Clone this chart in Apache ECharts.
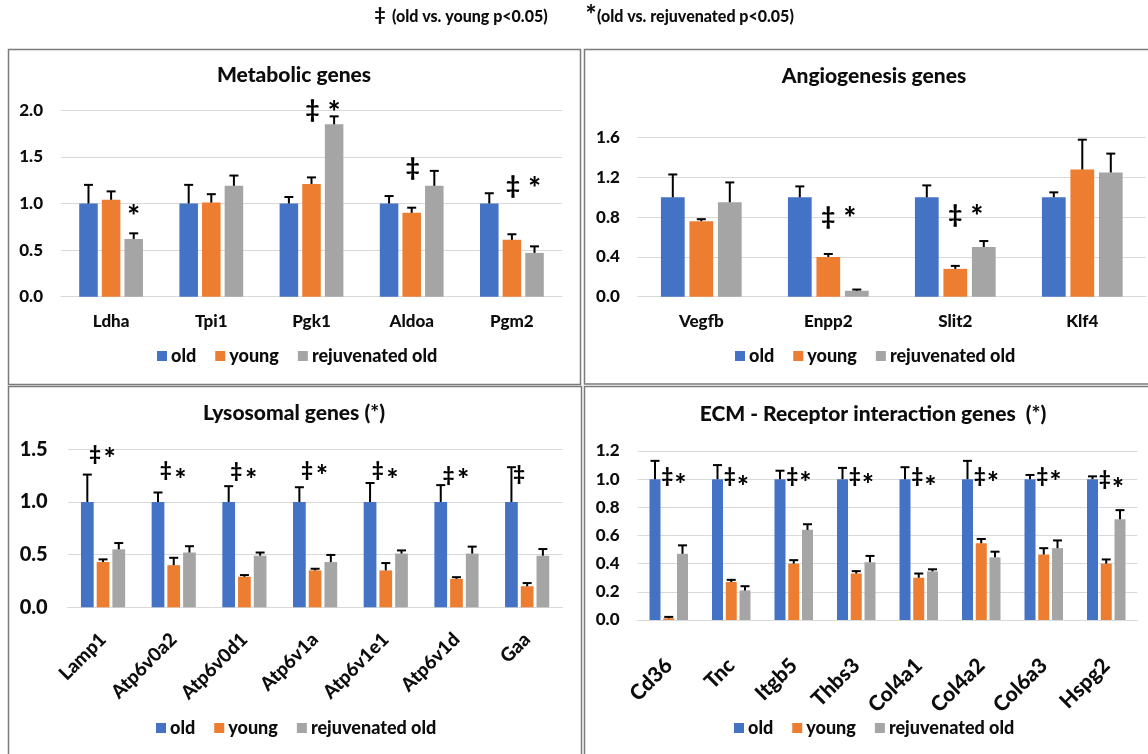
<!DOCTYPE html>
<html>
<head>
<meta charset="utf-8">
<script src="https://cdn.jsdelivr.net/npm/echarts@6/dist/echarts.min.js"></script>
<style>
  html, body { margin: 0; padding: 0; background: #fff; }
  #chart { width: 1148px; height: 754px; }
</style>
</head>
<body>
<div id="chart"></div>
<script>
// ---------------- DATA ----------------
const seriesNames = ['old', 'young', 'rejuvenated old'];

// Metabolic genes
const metabolicCategories = ['Ldha', 'Tpi1', 'Pgk1', 'Aldoa', 'Pgm2'];
const metabolicOld = [1, 1, 1, 1, 1];
const metabolicOldErr = [0.20, 0.20, 0.07, 0.08, 0.11];
const metabolicYoung = [1.04, 1.01, 1.21, 0.90, 0.61];
const metabolicYoungErr = [0.09, 0.09, 0.07, 0.055, 0.06];
const metabolicRejuv = [0.62, 1.19, 1.85, 1.19, 0.47];
const metabolicRejuvErr = [0.06, 0.11, 0.085, 0.16, 0.07];
const metabolicTicks = [0, 0.5, 1.0, 1.5, 2.0];
// significance marks: [category, bar (1 = young, 2 = rejuvenated), value, symbol]
const metabolicMarks = [
  ['Ldha', 2, 0.93, '*'],
  ['Pgk1', 1, 2.00, '‡'], ['Pgk1', 2, 2.04, '*'],
  ['Aldoa', 1, 1.38, '‡'],
  ['Pgm2', 1, 1.18, '‡'], ['Pgm2', 2, 1.23, '*']
];

// Angiogenesis genes
const angioCategories = ['Vegfb', 'Enpp2', 'Slit2', 'Klf4'];
const angioOld = [1, 1, 1, 1];
const angioOldErr = [0.23, 0.11, 0.12, 0.05];
const angioYoung = [0.76, 0.40, 0.28, 1.28];
const angioYoungErr = [0.02, 0.03, 0.03, 0.30];
const angioRejuv = [0.95, 0.06, 0.50, 1.25];
const angioRejuvErr = [0.20, 0.012, 0.06, 0.19];
const angioTicks = [0, 0.4, 0.8, 1.2, 1.6];
const angioMarks = [
  ['Enpp2', 1, 0.80, '‡'], ['Enpp2', 2, 0.855, '*'],
  ['Slit2', 1, 0.82, '‡'], ['Slit2', 2, 0.87, '*']
];

// Lysosomal genes
const lysoCategories = ['Lamp1', 'Atp6v0a2', 'Atp6v0d1', 'Atp6v1a', 'Atp6v1e1', 'Atp6v1d', 'Gaa'];
const lysoOld = [1, 1, 1, 1, 1, 1, 1];
const lysoOldErr = [0.26, 0.09, 0.15, 0.14, 0.18, 0.16, 0.33];
const lysoYoung = [0.43, 0.40, 0.29, 0.35, 0.35, 0.27, 0.20];
const lysoYoungErr = [0.025, 0.07, 0.016, 0.016, 0.07, 0.016, 0.03];
const lysoRejuv = [0.55, 0.52, 0.49, 0.43, 0.51, 0.51, 0.49];
const lysoRejuvErr = [0.06, 0.06, 0.03, 0.067, 0.03, 0.066, 0.063];
const lysoTicks = [0, 0.5, 1.0, 1.5];
const lysoMarks = [
  ['Lamp1', 1, 1.45, '‡'], ['Lamp1', 2, 1.47, '*'],
  ['Atp6v0a2', 1, 1.30, '‡'], ['Atp6v0a2', 2, 1.27, '*'],
  ['Atp6v0d1', 1, 1.29, '‡'], ['Atp6v0d1', 2, 1.27, '*'],
  ['Atp6v1a', 1, 1.30, '‡'], ['Atp6v1a', 2, 1.31, '*'],
  ['Atp6v1e1', 1, 1.295, '‡'], ['Atp6v1e1', 2, 1.27, '*'],
  ['Atp6v1d', 1, 1.25, '‡'], ['Atp6v1d', 2, 1.27, '*'],
  ['Gaa', 1, 1.26, '‡']
];

// ECM - Receptor interaction genes
const ecmCategories = ['Cd36', 'Tnc', 'Itgb5', 'Thbs3', 'Col4a1', 'Col4a2', 'Col6a3', 'Hspg2'];
const ecmOld = [1, 1, 1, 1, 1, 1, 1, 1];
const ecmOldErr = [0.13, 0.10, 0.06, 0.08, 0.085, 0.13, 0.03, 0.02];
const ecmYoung = [0.012, 0.27, 0.40, 0.33, 0.30, 0.545, 0.465, 0.40];
const ecmYoungErr = [0.01, 0.015, 0.025, 0.017, 0.03, 0.03, 0.045, 0.03];
const ecmRejuv = [0.47, 0.21, 0.64, 0.41, 0.345, 0.445, 0.51, 0.715];
const ecmRejuvErr = [0.06, 0.03, 0.04, 0.045, 0.015, 0.04, 0.055, 0.065];
const ecmTicks = [0, 0.2, 0.4, 0.6, 0.8, 1.0, 1.2];
const ecmMarks = [
  ['Cd36', 1, 1.02, '‡'], ['Cd36', 2, 1.01, '*'],
  ['Tnc', 1, 1.02, '‡'], ['Tnc', 2, 0.995, '*'],
  ['Itgb5', 1, 1.02, '‡'], ['Itgb5', 2, 1.02, '*'],
  ['Thbs3', 1, 1.02, '‡'], ['Thbs3', 2, 1.01, '*'],
  ['Col4a1', 1, 1.02, '‡'], ['Col4a1', 2, 0.99, '*'],
  ['Col4a2', 1, 1.02, '‡'], ['Col4a2', 2, 1.02, '*'],
  ['Col6a3', 1, 1.02, '‡'], ['Col6a3', 2, 1.025, '*'],
  ['Hspg2', 1, 1.00, '‡'], ['Hspg2', 2, 0.98, '*']
];

const headerTexts = ['‡', '(old vs. young p<0.05)', '*', '(old vs. rejuvenated p<0.05)'];

// ---------------- STYLE / LAYOUT ----------------
const FONT = 'Lato, "Open Sans", sans-serif';
const WEIGHT = 900;
const COLORS = ['#4472C4', '#ED7D31', '#A5A5A5'];
const GRID_COLOR = '#D9D9D9';
const TEXT = '#0d0d0d';

const panels = [
  { title: 'Metabolic genes', titlePos: [294, 75], box: [8.5, 49.5, 572, 335],
    grid: { left: 61, top: 110.3, width: 501, height: 186.4 },
    cats: metabolicCategories, vals: [metabolicOld, metabolicYoung, metabolicRejuv],
    errs: [metabolicOldErr, metabolicYoungErr, metabolicRejuvErr], ticks: metabolicTicks, marks: metabolicMarks,
    bw: 0.185, gap: 0.22, yFont: 17, yMargin: 18, xFont: 17, xMargin: 16, rotate: 0,
    legendPos: [157, 358], markFont: 24, starFont: 30, shift: { '‡': 1, '*': 0 } },
  { title: 'Angiogenesis genes', titlePos: [874, 76], box: [584.5, 49.5, 600, 334.5],
    grid: { left: 637.8, top: 137.7, width: 508, height: 159 },
    cats: angioCategories, vals: [angioOld, angioYoung, angioRejuv],
    errs: [angioOldErr, angioYoungErr, angioRejuvErr], ticks: angioTicks, marks: angioMarks,
    bw: 0.187, gap: 0.20, yFont: 17, yMargin: 18, xFont: 17, xMargin: 16, rotate: 0,
    legendPos: [735, 358], markFont: 24, starFont: 30, shift: { '‡': 0, '*': -7 } },
  { title: 'Lysosomal genes (*)', titlePos: [294, 413], box: [8.5, 386.5, 573, 400],
    grid: { left: 67.7, top: 449.3, width: 494.8, height: 158 },
    cats: lysoCategories, vals: [lysoOld, lysoYoung, lysoRejuv],
    errs: [lysoOldErr, lysoYoungErr, lysoRejuvErr], ticks: lysoTicks, marks: lysoMarks,
    bw: 0.18, gap: 0.236, yFont: 20, yMargin: 20, xFont: 19, xMargin: 29, rotate: 45,
    legendPos: [156, 730], markFont: 20, starFont: 28, shift: { '‡': -8, '*': -9 } },
  { title: 'ECM - Receptor interaction genes  (*)', titlePos: [873, 414], box: [584.5, 386.5, 600, 400],
    grid: { left: 637.5, top: 451, width: 500, height: 169 },
    cats: ecmCategories, vals: [ecmOld, ecmYoung, ecmRejuv],
    errs: [ecmOldErr, ecmYoungErr, ecmRejuvErr], ticks: ecmTicks, marks: ecmMarks,
    bw: 0.176, gap: 0.25, yFont: 17, yMargin: 18, xFont: 21, xMargin: 42, rotate: 45,
    legendPos: [734, 730], markFont: 20, starFont: 28, shift: { '‡': -1.5, '*': -2 } }
];

// ---------------- BUILD OPTION ----------------
const grids = [], xAxes = [], yAxes = [], series = [], legends = [], graphics = [];

panels.forEach((p, pi) => {
  grids.push(Object.assign({ containLabel: false }, p.grid));
  const tickStep = p.ticks[1] - p.ticks[0];
  xAxes.push({
    type: 'category', gridIndex: pi, data: p.cats,
    axisTick: { show: false },
    axisLine: { show: true, lineStyle: { color: GRID_COLOR, width: 1 } },
    axisLabel: {
      interval: 0, rotate: p.rotate, margin: p.xMargin, color: TEXT,
      fontFamily: FONT, fontWeight: WEIGHT, fontSize: p.xFont
    }
  });
  yAxes.push({
    type: 'value', gridIndex: pi, min: p.ticks[0], max: p.ticks[p.ticks.length - 1], interval: tickStep,
    axisLine: { show: false }, axisTick: { show: false },
    splitLine: { lineStyle: { color: GRID_COLOR, width: 1 } },
    axisLabel: {
      margin: p.yMargin, color: TEXT, fontFamily: FONT, fontWeight: WEIGHT, fontSize: p.yFont,
      formatter: v => v.toFixed(1)
    }
  });

  // bars
  p.vals.forEach((vals, si) => {
    series.push({
      name: seriesNames[si], type: 'bar', xAxisIndex: pi, yAxisIndex: pi,
      data: vals, barWidth: (p.bw * 100) + '%', barGap: (p.gap * 100) + '%',
      itemStyle: { color: COLORS[si] }, z: 2, animation: false
    });
  });

  // error bars (drawn through the axis scales)
  const errData = [];
  p.vals.forEach((vals, si) => {
    vals.forEach((v, ci) => errData.push([ci, si, v, p.errs[si][ci]]));
  });
  series.push({
    type: 'custom', xAxisIndex: pi, yAxisIndex: pi, z: 5, animation: false, silent: true,
    encode: { x: 0, y: 2 },
    data: errData,
    renderItem: function (params, api) {
      const ci = api.value(0), si = api.value(1), v = api.value(2), e = api.value(3);
      const base = api.coord([ci, v]);
      const top = api.coord([ci, v + e]);
      const band = api.size([1, 0])[0];
      const w = band * p.bw, g = w * p.gap;
      const x = base[0] + (si - 1) * (w + g);
      return {
        type: 'group', children: [
          { type: 'line', shape: { x1: x, y1: base[1], x2: x, y2: top[1] }, style: { stroke: '#000', lineWidth: 2 } },
          { type: 'line', shape: { x1: x - 4.5, y1: top[1], x2: x + 4.5, y2: top[1] }, style: { stroke: '#000', lineWidth: 2 } }
        ]
      };
    }
  });

  // significance marks
  const markData = p.marks.map(m => [p.cats.indexOf(m[0]), m[1], m[2]]);
  series.push({
    type: 'custom', xAxisIndex: pi, yAxisIndex: pi, z: 6, animation: false, silent: true,
    encode: { x: 0, y: 2 }, clip: false,
    data: markData,
    renderItem: function (params, api) {
      const m = p.marks[params.dataIndex];
      const ci = api.value(0), si = api.value(1), v = api.value(2);
      const pt = api.coord([ci, v]);
      const band = api.size([1, 0])[0];
      const w = band * p.bw, g = w * p.gap;
      const sym = m[3];
      const x = pt[0] + (si - 1) * (w + g) + p.shift[sym];
      const isStar = sym === '*';
      const fs = isStar ? p.starFont : p.markFont;
      return {
        type: 'text', x: x, y: pt[1] + (isStar ? fs * 0.24 : 0),
        style: {
          text: sym, fill: '#000', fontFamily: FONT, fontWeight: WEIGHT, fontSize: fs,
          align: 'center', verticalAlign: 'middle'
        }
      };
    }
  });

  legends.push({
    data: seriesNames, left: p.legendPos[0], top: p.legendPos[1] - 11, padding: 0,
    icon: 'rect', itemWidth: 10, itemHeight: 10, itemGap: 19,
    textStyle: { fontFamily: FONT, fontWeight: WEIGHT, fontSize: 18, color: TEXT, padding: [0, 0, 0, -1] },
    selectedMode: false
  });

  graphics.push({
    type: 'rect', shape: { x: p.box[0], y: p.box[1], width: p.box[2], height: p.box[3] },
    style: { fill: 'none', stroke: '#7b7b7b', lineWidth: 1.5 }, z: 0, silent: true
  });
  graphics.push({
    type: 'text', x: p.titlePos[0], y: p.titlePos[1],
    style: { text: p.title, fill: TEXT, fontFamily: FONT, fontWeight: WEIGHT, fontSize: 21,
      align: 'center', verticalAlign: 'middle' }, z: 10
  });
});

// header
graphics.push({ type: 'text', x: 380, y: 15, style: { text: headerTexts[0], fill: TEXT, fontFamily: FONT, fontWeight: WEIGHT, fontSize: 19, align: 'center', verticalAlign: 'middle' } });
graphics.push({ type: 'text', x: 392, y: 17, style: { text: headerTexts[1], fill: TEXT, fontFamily: FONT, fontWeight: WEIGHT, fontSize: 16, align: 'left', verticalAlign: 'middle' } });
graphics.push({ type: 'text', x: 591, y: 16, style: { text: headerTexts[2], fill: TEXT, fontFamily: FONT, fontWeight: WEIGHT, fontSize: 26, align: 'center', verticalAlign: 'middle' } });
graphics.push({ type: 'text', x: 597, y: 17, style: { text: headerTexts[3], fill: TEXT, fontFamily: FONT, fontWeight: WEIGHT, fontSize: 16, align: 'left', verticalAlign: 'middle' } });

const chart = echarts.init(document.getElementById('chart'), null, { renderer: 'canvas' });
chart.setOption({
  backgroundColor: '#fff',
  animation: false,
  grid: grids, xAxis: xAxes, yAxis: yAxes, series: series, legend: legends,
  graphic: { elements: graphics }
});
</script>
</body>
</html>
